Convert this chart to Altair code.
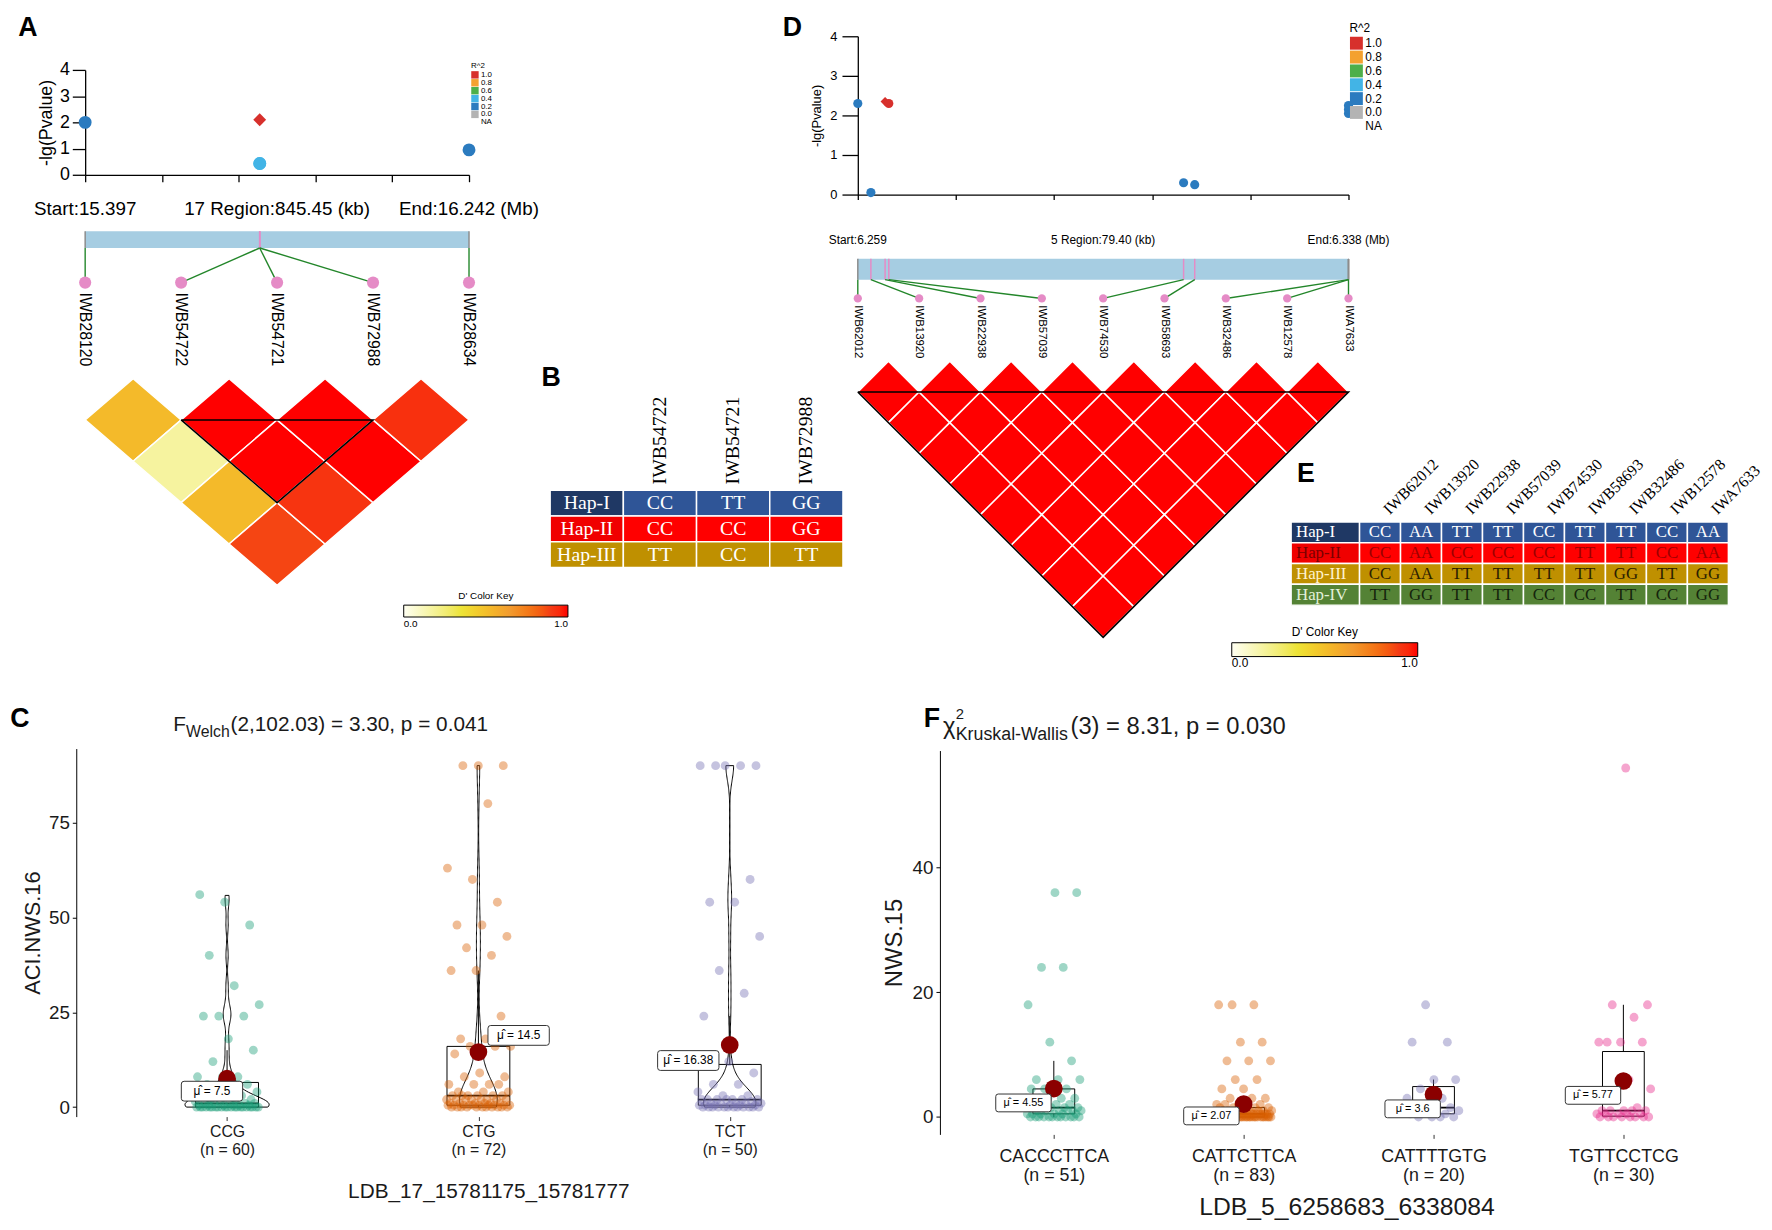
import altair as alt
import pandas as pd

# =============================== DATA ===============================
# Panel A : chromosome 17 region
A_CHR = "17"
A_START = 15.397
A_END = 16.242
A_REGION_KB = "845.45"
A_MARKERS = ["IWB28120", "IWB54722", "IWB54721", "IWB72988", "IWB28634"]
A_POS = [15.397, 15.7812, 15.7812, 15.7815, 16.242]
A_LOGP = [2.0, 0.43, 2.1, 0.43, 0.95]
A_R2 = ["0.2", "0.4", "1.0", "0.4", "0.2"]
A_LEAD = [False, False, True, False, False]
A_DPRIME = [[0.52, 0.17, 0.52, 0.88], [1.00, 1.00, 0.92], [1.00, 1.00], [0.93]]
A_BLOCK = [1, 3]

# Panel B : haplotypes of the chr17 block
B_HAPS = ["Hap-I", "Hap-II", "Hap-III"]
B_SNPS = ["IWB54722", "IWB54721", "IWB72988"]
B_ALLELES = [["CC", "TT", "GG"], ["CC", "CC", "GG"], ["TT", "CC", "TT"]]

# Panel D : chromosome 5 region
D_CHR = "5"
D_START = 6.258683
D_END = 6.338084
D_START_LABEL = "6.259"
D_END_LABEL = "6.338"
D_REGION_KB = "79.40"
D_MARKERS = ["IWB62012", "IWB13920", "IWB22938", "IWB57039", "IWB74530",
             "IWB58693", "IWB32486", "IWB12578", "IWA7633"]
D_POS = [6.258683, 6.260800, 6.263100, 6.263700, 6.311400, 6.313200, 6.338084, 6.338084, 6.338084]
D_LOGP = [2.30, 0.05, 2.35, 2.30, 0.30, 0.25, 2.05, 2.15, 2.25]
D_R2 = ["0.2", "0.2", "1.0", "1.0", "0.2", "0.2", "0.2", "0.2", "0.2"]
D_LEAD = [False, False, True, False, False, False, False, False, False]
D_DPRIME = [
    [1.0, 1.0, 1.0, 1.0, 1.0, 1.0, 1.0, 1.0],
    [1.0, 1.0, 1.0, 1.0, 1.0, 1.0, 1.0],
    [1.0, 1.0, 1.0, 1.0, 1.0, 1.0],
    [1.0, 1.0, 1.0, 1.0, 1.0],
    [1.0, 1.0, 1.0, 1.0],
    [1.0, 1.0, 1.0],
    [1.0, 1.0],
    [1.0],
]
D_BLOCK = [0, 8]

# Panel E : haplotypes of the chr5 block
E_HAPS = ["Hap-I", "Hap-II", "Hap-III", "Hap-IV"]
E_SNPS = D_MARKERS
E_ALLELES = [
    ["CC", "AA", "TT", "TT", "CC", "TT", "TT", "CC", "AA"],
    ["CC", "AA", "CC", "CC", "CC", "TT", "TT", "CC", "AA"],
    ["CC", "AA", "TT", "TT", "TT", "TT", "GG", "TT", "GG"],
    ["TT", "GG", "TT", "TT", "CC", "CC", "TT", "CC", "GG"],
]

# Panel C : ACI.NWS.16 by LDB_17 haplotype
C_GROUPS = ["CCG", "CTG", "TCT"]
C_CCG = [0] * 21 + [0.5] * 6 + [1] * 5 + [1.5] * 2 + [2] * 3 + [3] * 3 + [4] * 2 + [6] * 3 + [8] * 3 + \
        [12, 15, 18, 24, 24, 24, 27, 32, 40, 48, 54, 56]
C_CTG = [0] * 11 + [0.5] * 10 + [1] * 6 + [2] * 8 + [3] * 6 + [4] * 3 + [6] * 4 + [8] * 2 + \
        [9, 14, 16, 16, 16, 18, 18, 24, 36, 36, 40, 42, 45, 48, 48, 54, 60, 63, 80, 90, 90, 90]
C_TCT = [0] * 12 + [0.5] * 6 + [1] * 5 + [1.5] + [2] * 7 + [3, 3, 4, 6, 6, 9, 12] + \
        [24, 30, 36, 45, 54, 54, 60, 90, 90, 90, 90, 90]
C_MEANS = [7.5, 14.5, 16.38]

# Panel F : NWS.15 by LDB_5 haplotype
F_GROUPS = ["CACCCTTCA", "CATTCTTCA", "CATTTTGTG", "TGTTCCTCG"]
F_G1 = [0] * 12 + [0.5] * 6 + [1] * 6 + [1.5] * 5 + [2] * 3 + [3] * 5 + [4.5] * 4 + [6] * 3 + \
       [9, 12, 18, 24, 24, 36, 36]
F_G2 = [0] * 30 + [0.5] * 20 + [1] * 8 + [1.5] * 6 + [2] * 4 + [3] * 3 + [4.5] * 2 + [6] * 2 + \
       [9] * 3 + [12] * 2 + [18] * 3
F_G3 = [0] * 4 + [0.5] * 2 + [1] * 2 + [1.5] * 4 + [3] * 2 + [4.5] + [6] * 2 + [12] * 2 + [18]
F_G4 = [0] * 8 + [0.5] * 5 + [1] * 5 + [1.5, 3, 4.5, 6, 12, 12, 12, 12, 16, 18, 18, 56]
F_MEANS = [4.55, 2.07, 3.6, 5.77]

# =============================== STYLE ===============================
SANS = "Liberation Sans"
SERIF = "Liberation Serif"
W_TOTAL, H_TOTAL = 1756, 1214
R2_DOMAIN = ["1.0", "0.8", "0.6", "0.4", "0.2", "0.0", "NA"]
R2_COLORS = ["#D7302C", "#F4A12F", "#4DAF4A", "#42B4E6", "#2B7BBF", "#B3B3B3", "#FFFFFF"]
DP_STOPS = [0.0, 0.35, 0.65, 0.9, 1.0]
DP_COLORS = ["#FFFFF2", "#EDE437", "#F29A2E", "#F53A14", "#FF0000"]
BAR_COLOR = "#A6CDE2"
PINK = "#E58BC6"
GREEN = "#23862A"
GREY = "#8C8C8C"
HAP_LABEL_BG = ["#1F3864", "#F00000", "#BF9000", "#548235"]
HAP_CELL_BG = ["#2F5597", "#FF0000", "#BF9000", "#548235"]
B_LABEL_FG = ["#FFFFFF", "#FFFFFF", "#FFFFFF"]
B_CELL_FG = ["#FFFFFF", "#FFFFFF", "#FFFFFF"]
E_LABEL_FG = ["#FFFFFF", "#7A0000", "#FFF2CC", "#E2F0D9"]
E_CELL_FG = ["#FFFFFF", "#9C0000", "#2B2000", "#14240C"]
DARK2 = ["#1B9E77", "#D95F02", "#7570B3", "#E7298A"]
C_LABEL_OFF = [(-0.06, -3.3), (0.16, 4.4), (-0.165, -4.1)]
F_LABEL_OFF = [(-0.16, -2.3), (-0.17, -1.9), (-0.11, -2.3), (-0.16, -2.3)]


def letter(ch, x, y):
    return alt.Chart(pd.DataFrame({"t": [ch]})).mark_text(
        font=SANS, fontSize=27, fontWeight="bold", align="center", baseline="middle", color="black"
    ).encode(x=alt.value(x), y=alt.value(y), text="t:N")


def free_text(t, x, y, size, baseline="alphabetic"):
    return alt.Chart(pd.DataFrame({"t": [t]})).mark_text(
        font=SANS, fontSize=size, align="left", baseline=baseline, color="#1a1a1a"
    ).encode(x=alt.value(x), y=alt.value(y), text="t:N")


# --------------------------- association scatter ---------------------------
def scatter_panel(markers, pos, logp, r2, lead, start, end, cfg, let):
    ox, oy, w, h = cfg["ox"], cfg["oy"], cfg["w"], cfg["h"]
    df = pd.DataFrame({"marker": markers, "pos": pos, "logp": logp, "r2": r2,
                       "kind": ["lead" if v else "snp" for v in lead]})
    ticks = [start + k * (end - start) / 5 for k in range(6)]
    x = alt.X("pos:Q", scale=alt.Scale(domain=[start, end], range=[ox, ox + w], nice=False, zero=False),
              axis=alt.Axis(orient="bottom", offset=(oy + h) - H_TOTAL, values=ticks, labels=False,
                            title=None, grid=False, tickSize=cfg["xtick"], tickColor="black",
                            domainColor="black", tickWidth=1.3, domainWidth=1.3))
    y = alt.Y("logp:Q", scale=alt.Scale(domain=[0, 4], range=[oy + h, oy], nice=False, zero=False),
              axis=alt.Axis(orient="left", offset=-ox, values=[0, 1, 2, 3, 4], format="d",
                            title="-lg(Pvalue)", grid=False,
                            tickSize=cfg["ytick"], tickColor="black", domainColor="black",
                            tickWidth=1.3, domainWidth=1.3, labelFontSize=cfg["lab"], labelColor="black",
                            labelPadding=cfg["lpad"], titleFontSize=cfg["tit"], titleFontWeight="normal",
                            titleColor="black", titlePadding=cfg["tpad"]))
    color = alt.Color("r2:N", scale=alt.Scale(domain=R2_DOMAIN, range=R2_COLORS),
                      legend=alt.Legend(title="R^2", orient="none", legendX=ox + cfg["lx"],
                                        legendY=oy + cfg["ly"],
                                        symbolType="square", symbolSize=cfg["sym"], symbolStrokeWidth=0,
                                        labelFontSize=cfg["lfs"], titleFontSize=cfg["lfs"],
                                        titleFontWeight="normal", rowPadding=0, labelOffset=2,
                                        titlePadding=1, padding=0, labelColor="black", titleColor="black"))
    shape = alt.Shape("kind:N", scale=alt.Scale(domain=["lead", "snp"], range=["diamond", "circle"]),
                      legend=None)
    pts = alt.Chart(df).mark_point(filled=True, opacity=1, size=cfg["size"]).encode(
        x=x, y=y, color=color, shape=shape)
    return alt.layer(pts, letter(*let))


# --------------------------- gene track + LD heatmap ---------------------------
def schematic_panel(markers, pos, start, end, dprime, block, labels3, cfg):
    ox, oy, W, H = cfg["ox"], cfg["oy"], cfg["w"], cfg["h"]
    n = len(markers)
    xs = alt.Scale(domain=[0, n - 1], range=[ox, ox + W], nice=False, zero=False)
    ys = alt.Scale(domain=[0, H], range=[oy, oy + H], nice=False, zero=False)

    def X(f):
        return alt.X(f, scale=xs, axis=None)

    def Y(f):
        return alt.Y(f, scale=ys, axis=None)

    span = end - start

    def to_idx(fld):
        return f"(datum.{fld} - {start}) / {span} * {n - 1}"

    dm = pd.DataFrame({"marker": markers, "pos": pos, "k": list(range(n))})
    base = alt.Chart(dm).transform_calculate(u=to_idx("pos"))
    end_test = f"abs(datum.pos - {start}) < 1e-9 || abs(datum.pos - {end}) < 1e-9"

    tdf = pd.DataFrame({"k": [0, (n - 1) / 2, n - 1], "t": labels3})
    texts = alt.Chart(tdf).mark_text(font=SANS, fontSize=cfg["tfs"], baseline="middle", align="center",
                                     color="black").encode(x=X("k:Q"), y=alt.value(oy + cfg["text_y"]),
                                                           text="t:N")
    bar = alt.Chart(pd.DataFrame({"s": [start], "e": [end]})).transform_calculate(
        u0=to_idx("s"), u1=to_idx("e")).mark_rect(color=BAR_COLOR).encode(
        x=X("u0:Q"), x2="u1:Q", y=alt.value(oy + cfg["bar_top"]), y2=alt.value(oy + cfg["bar_bot"]))
    ticks = base.transform_calculate(tc=f"({end_test}) ? '{GREY}' : '{PINK}'").mark_rule(
        strokeWidth=1.5).encode(x=X("u:Q"), y=alt.value(oy + cfg["bar_top"]), y2=alt.value(oy + cfg["bar_bot"]),
                                color=alt.Color("tc:N", scale=None))
    links = base.mark_rule(color=GREEN, strokeWidth=1.4).encode(
        x=X("u:Q"), x2="k:Q", y=alt.value(oy + cfg["bar_bot"]), y2=alt.value(oy + cfg["dot_y"]))
    dots = base.mark_circle(color=PINK, opacity=1, size=cfg["dot_size"]).encode(
        x=X("k:Q"), y=alt.value(oy + cfg["dot_y"]))
    labs = base.mark_text(font=SANS, fontSize=cfg["mfs"], angle=90, align="left", baseline="middle",
                          color="black").encode(x=X("k:Q"), y=alt.value(oy + cfg["lab_y"]), text="marker:N")

    cells = [{"i": i, "j": i + 1 + m, "dp": v} for i, row in enumerate(dprime) for m, v in enumerate(row)]
    cdf = pd.DataFrame(cells)
    y0, hv = cfg["y0"], cfg["hv"]
    side = W / (n - 1)
    ratio = hv / (side / 2)
    path = f"M0,-{ratio:.4f}L1,0L0,{ratio:.4f}L-1,0Z"
    heat = alt.Chart(cdf).transform_calculate(
        cx="(datum.i + datum.j) / 2", cy=f"{y0} + (datum.j - datum.i) * {hv}"
    ).mark_point(shape=path, size=side * side, filled=True, opacity=1, stroke="white", strokeWidth=1.5).encode(
        x=X("cx:Q"), y=Y("cy:Q"),
        color=alt.Color("dp:Q", scale=alt.Scale(domain=DP_STOPS, range=DP_COLORS),
                        legend=alt.Legend(title="D' Color Key", orient="none", legendX=ox + cfg["lx"],
                                          legendY=oy + cfg["ly"], direction="horizontal",
                                          gradientLength=cfg["glen"], gradientThickness=cfg["gthick"],
                                          gradientStrokeColor="black", gradientStrokeWidth=1,
                                          values=[0, 1], format=".1f", labelFontSize=cfg["lfs"],
                                          titleFontSize=cfg["lfs"], titleFontWeight="normal",
                                          titleAnchor="middle", titlePadding=4, padding=0,
                                          labelColor="black", titleColor="black")))
    b0, b1 = block
    bdf = pd.DataFrame({"o": [0, 1, 2, 3], "b0": [b0] * 4, "b1": [b1] * 4})
    blk = alt.Chart(bdf).transform_calculate(
        bx="datum.o == 1 ? datum.b1 : (datum.o == 2 ? (datum.b0 + datum.b1) / 2 : datum.b0)",
        by=f"datum.o == 2 ? {y0} + {hv} + (datum.b1 - datum.b0) * {hv} : {y0} + {hv}"
    ).mark_line(color="black", strokeWidth=1.6).encode(x=X("bx:Q"), y=Y("by:Q"), order="o:Q")
    return alt.layer(bar, ticks, links, dots, labs, texts, heat, blk)


# --------------------------- haplotype table ---------------------------
def table_panel(haps, cols, alleles, label_fg, cell_fg, cfg, let):
    lw = cfg["lw"]
    recs = []
    for r, h in enumerate(haps):
        recs.append({"r": r, "c0": 0.0, "c1": lw, "txt": h, "bg": HAP_LABEL_BG[r], "fg": label_fg[r], "lab": 1})
        for c, a in enumerate(alleles[r]):
            recs.append({"r": r, "c0": lw + c, "c1": lw + c + 1, "txt": a, "bg": HAP_CELL_BG[r],
                         "fg": cell_fg[r], "lab": 0})
    df = pd.DataFrame(recs)
    xs = alt.Scale(domain=[0, lw + len(cols)], range=cfg["xr"], nice=False, zero=False)
    ys = alt.Scale(domain=[0, len(haps)], range=cfg["yr"], nice=False, zero=False)

    def X(f):
        return alt.X(f, scale=xs, axis=None)

    def Y(f):
        return alt.Y(f, scale=ys, axis=None)

    base = alt.Chart(df).transform_calculate(
        r1="datum.r + 1", cm="(datum.c0 + datum.c1) / 2", rm="datum.r + 0.5",
        cl=f"datum.c0 + {cfg['lpad']}")
    rects = base.mark_rect(stroke="white", strokeWidth=1.5).encode(
        x=X("c0:Q"), x2="c1:Q", y=Y("r:Q"), y2="r1:Q", fill=alt.Fill("bg:N", scale=None))
    cell_txt = base.transform_filter("datum.lab == 0").mark_text(
        font=SERIF, fontSize=cfg["fs"], align="center", baseline="middle").encode(
        x=X("cm:Q"), y=Y("rm:Q"), text="txt:N", color=alt.Color("fg:N", scale=None))
    if cfg["label_align"] == "center":
        lab_txt = base.transform_filter("datum.lab == 1").mark_text(
            font=SERIF, fontSize=cfg["fs"], align="center", baseline="middle").encode(
            x=X("cm:Q"), y=Y("rm:Q"), text="txt:N", color=alt.Color("fg:N", scale=None))
    else:
        lab_txt = base.transform_filter("datum.lab == 1").mark_text(
            font=SERIF, fontSize=cfg["fs"], align="left", baseline="middle").encode(
            x=X("cl:Q"), y=Y("rm:Q"), text="txt:N", color=alt.Color("fg:N", scale=None))
    hdf = pd.DataFrame({"c": [lw + k + 0.5 for k in range(len(cols))], "col": cols})
    heads = alt.Chart(hdf).transform_calculate(
        hx=f"datum.c + {cfg['hdx']}", hy=f"{cfg['hdy']}"
    ).mark_text(font=SERIF, fontSize=cfg["hfs"], angle=cfg["angle"], align="left", baseline="middle",
                color="black").encode(x=X("hx:Q"), y=Y("hy:Q"), text="col:N")
    return alt.layer(rects, cell_txt, lab_txt, heads, letter(*let))


# --------------------------- box / violin / jitter panel ---------------------------
def stat_panel(groups, value_lists, means, offsets, cfg, title_parts, let):
    ox, oy, w, h = cfg["ox"], cfg["oy"], cfg["w"], cfg["h"]
    n = len(groups)
    recs = []
    for gi, (g, vl) in enumerate(zip(groups, value_lists), start=1):
        for v in vl:
            recs.append({"g": g, "gi": gi, "value": v})
    df = pd.DataFrame(recs)
    xs = alt.Scale(domain=[0.4, n + 0.6], range=[ox, ox + w], nice=False, zero=False)
    ys = alt.Scale(domain=cfg["ydom"], range=[oy + h, oy], nice=False, zero=False)
    parts = []
    for gi, (g, vl) in enumerate(zip(groups, value_lists), start=1):
        parts.append(f"datum.value == {gi} ? ['{g}', '(n = {len(vl)})']")
    label_expr = " : ".join(parts) + " : ''"
    xaxis = alt.Axis(orient="bottom", offset=(oy + h) - H_TOTAL, values=list(range(1, n + 1)),
                     labelExpr=label_expr, title=cfg["xtitle"], grid=False,
                     domain=False, ticks=True, tickSize=4, tickColor="#333333", labelFontSize=cfg["xlab"],
                     labelColor="#1a1a1a", titleFontSize=cfg["xtfs"], titleFontWeight="normal",
                     titleColor="#1a1a1a", labelPadding=cfg["xlpad"], titlePadding=cfg["xtpad"],
                     titleX=ox + w / 2 + cfg["xtshift"], labelLineHeight=cfg["xlab"] + 2)
    yaxis = alt.Axis(orient="left", offset=-ox, values=cfg["yticks"], title=cfg["ytitle"], grid=False,
                     domain=True, domainColor="black",
                     tickColor="black", tickSize=4, labelFontSize=cfg["ylab"], labelColor="#1a1a1a",
                     titleFontSize=cfg["tfs"], titleFontWeight="normal", titleColor="#1a1a1a",
                     titlePadding=cfg["ytpad"], labelPadding=3)

    def X(f):
        return alt.X(f, scale=xs, axis=xaxis)

    def Y(f):
        return alt.Y(f, scale=ys, axis=yaxis)

    layers = []
    if cfg["violin"]:
        vio = alt.Chart(df).transform_joinaggregate(
            gmin="min(value)", gmax="max(value)", groupby=["gi"]
        ).transform_density(
            "value", as_=["v", "dens"], groupby=["gi", "gmin", "gmax"], steps=300
        ).transform_filter("datum.v >= datum.gmin && datum.v <= datum.gmax").transform_calculate(
            xl=f"datum.gi - datum.dens * {cfg['K']}", xr=f"datum.gi + datum.dens * {cfg['K']}"
        ).mark_area(orient="horizontal", fill="white", fillOpacity=0, stroke="black", strokeWidth=1).encode(
            y=Y("v:Q"), x=X("xl:Q"), x2="xr:Q", detail="gi:N")
        layers.append(vio)
    bw = cfg["bw"]
    box = alt.Chart(df).transform_aggregate(
        q1="q1(value)", med="median(value)", q3="q3(value)", groupby=["gi"]
    ).transform_calculate(bl=f"datum.gi - {bw}", br=f"datum.gi + {bw}")
    box_rect = box.mark_rect(fill="white", fillOpacity=0, stroke="black", strokeWidth=1).encode(
        x=X("bl:Q"), x2="br:Q", y=Y("q1:Q"), y2="q3:Q")
    med = box.mark_rule(color="black", strokeWidth=1.8).encode(x=X("bl:Q"), x2="br:Q", y=Y("med:Q"))
    wh = alt.Chart(df).transform_joinaggregate(
        q1="q1(value)", q3="q3(value)", groupby=["gi"]
    ).transform_calculate(
        hi="datum.q3 + 1.5 * (datum.q3 - datum.q1)", lo="datum.q1 - 1.5 * (datum.q3 - datum.q1)"
    ).transform_filter("datum.value <= datum.hi && datum.value >= datum.lo").transform_aggregate(
        wmax="max(value)", wmin="min(value)", q1="min(q1)", q3="min(q3)", groupby=["gi"])
    up = wh.mark_rule(color="black", strokeWidth=1).encode(x=X("gi:Q"), y=Y("q3:Q"), y2="wmax:Q")
    lo = wh.mark_rule(color="black", strokeWidth=1).encode(x=X("gi:Q"), y=Y("wmin:Q"), y2="q1:Q")
    pts = alt.Chart(df).transform_window(rn="row_number()", groupby=["gi"]).transform_calculate(
        gx=f"datum.gi + ((datum.rn * 0.6180339887) % 1 - 0.5) * {cfg['jit']}"
    ).mark_circle(size=cfg["psize"], opacity=0.42).encode(
        x=X("gx:Q"), y=Y("value:Q"),
        color=alt.Color("g:N", scale=alt.Scale(domain=groups, range=cfg["pal"]), legend=None))
    md = pd.DataFrame({"gi": list(range(1, n + 1)), "mean": means,
                       "lab": [f"\u03bc\u0302 = {m}" for m in means],
                       "ldx": [o[0] for o in offsets], "ldy": [o[1] for o in offsets]})
    mpt = alt.Chart(md).mark_circle(size=cfg["msize"], color="#8B0000", opacity=1).encode(
        x=X("gi:Q"), y=Y("mean:Q"))
    a = cfg["lh"] / cfg["lw"]
    r = 0.09
    box_path = (f"M{-1 + r},{-a}L{1 - r},{-a}Q1,{-a} 1,{-a + r}L1,{a - r}Q1,{a} {1 - r},{a}"
                f"L{-1 + r},{a}Q-1,{a} -1,{a - r}L-1,{-a + r}Q-1,{-a} {-1 + r},{-a}Z")
    lbase = alt.Chart(md).transform_calculate(lx="datum.gi + datum.ldx", ly="datum.mean + datum.ldy")
    lrect = lbase.mark_point(shape=box_path, size=cfg["lw"] ** 2, fill="white", fillOpacity=1,
                             stroke="#333333", strokeWidth=1, opacity=1).encode(x=X("lx:Q"), y=Y("ly:Q"))
    ltxt = lbase.mark_text(font=SANS, fontSize=cfg["lfs"], color="black", align="center",
                           baseline="middle").encode(x=X("lx:Q"), y=Y("ly:Q"), text="lab:N")
    layers += [box_rect, med, up, lo, pts, mpt, lrect, ltxt]
    for (t, tx, ty, ts) in title_parts:
        layers.append(free_text(t, ox + tx, oy + ty, ts))
    layers.append(letter(*let))
    return alt.layer(*layers)


# =============================== PANELS (chart pixel layout) ===============================
A_sc_cfg = dict(ox=78, oy=56, w=388, h=106, xtick=7, ytick=13, lab=18, lpad=3, tit=18, tpad=4, size=170,
                lx=390, ly=-8, sym=56, lfs=8)
A_scatter = scatter_panel(A_MARKERS, A_POS, A_LOGP, A_R2, A_LEAD, A_START, A_END, A_sc_cfg, ("A", 20, 14))

A_sch_cfg = dict(ox=78, oy=187, w=388, h=410, text_y=10, tfs=19, bar_top=32, bar_bot=49, dot_y=84,
                 dot_size=150, lab_y=94, mfs=16, y0=181, hv=41.8, lx=322, ly=396, glen=166, gthick=12, lfs=10)
A_schem = schematic_panel(
    A_MARKERS, A_POS, A_START, A_END, A_DPRIME, A_BLOCK,
    [f"Start:{A_START}", f"{A_CHR} Region:{A_REGION_KB} (kb)", f"End:{A_END} (Mb)"], A_sch_cfg)

B_cfg = dict(lw=1.0, xr=[548, 844], yr=[481, 559], fs=20, hfs=20, angle=270, hdx=0, hdy=-0.23,
             label_align="center", lpad=0.1)
B_table = table_panel(B_HAPS, B_SNPS, B_ALLELES, B_LABEL_FG, B_CELL_FG, B_cfg, ("B", 549, 367))

D_sc_cfg = dict(ox=859, oy=22, w=496, h=160, xtick=5, ytick=16, lab=13, lpad=5, tit=13, tpad=6, size=85,
                lx=497, ly=-13, sym=170, lfs=12)
D_scatter = scatter_panel(D_MARKERS, D_POS, D_LOGP, D_R2, D_LEAD, D_START, D_END, D_sc_cfg, ("D", 793, 14))

D_sch_cfg = dict(ox=859, oy=217, w=496, h=445, text_y=11, tfs=12, bar_top=30, bar_bot=51, dot_y=70,
                 dot_size=70, lab_y=77, mfs=11.5, y0=133.5, hv=31, lx=378, ly=402, glen=188, gthick=14, lfs=12)
D_schem = schematic_panel(
    D_MARKERS, D_POS, D_START, D_END, D_DPRIME, D_BLOCK,
    [f"Start:{D_START_LABEL}", f"{D_CHR} Region:{D_REGION_KB} (kb)", f"End:{D_END_LABEL} (Mb)"], D_sch_cfg)

E_cfg = dict(lw=1.67, xr=[1297, 1739], yr=[513, 597], fs=17, hfs=16, angle=315, hdx=0.15, hdy=-0.5,
             label_align="left", lpad=0.12)
E_table = table_panel(E_HAPS, E_SNPS, E_ALLELES, E_LABEL_FG, E_CELL_FG, E_cfg, ("E", 1312, 465))

C_cfg = dict(ox=69, oy=742, w=813, h=372, ydom=[-2.5, 94.5], yticks=[0, 25, 50, 75], ytitle="ACI.NWS.16",
             xtitle="LDB_17_15781175_15781777", tfs=22, xtfs=21, xtshift=10, ylab=19, xlab=16, xlpad=3,
             xtpad=24, ytpad=4, violin=True, K=1.5, bw=0.125, jit=0.26, psize=80, msize=320, lw=62, lh=20,
             lfs=12, pal=DARK2[:3])
C_chart = stat_panel(C_GROUPS, [C_CCG, C_CTG, C_TCT], C_MEANS, C_LABEL_OFF, C_cfg,
                     [("F", 98, -18, 21), ("Welch", 111, -12, 16), ("(2,102.03) = 3.30, p = 0.041", 156, -18, 21)],
                     ("C", 12, 712))

F_cfg = dict(ox=942, oy=744, w=806, h=388, ydom=[-2.8, 58.8], yticks=[0, 20, 40], ytitle="NWS.15",
             xtitle="LDB_5_6258683_6338084", tfs=24, xtfs=25, xtshift=8, ylab=19, xlab=18, xlpad=9,
             xtpad=10, ytpad=6, violin=False, K=1.5, bw=0.11, jit=0.3, psize=80, msize=320, lw=56, lh=18,
             lfs=11, pal=DARK2)
F_chart = stat_panel(F_GROUPS, [F_G1, F_G2, F_G3, F_G4], F_MEANS, F_LABEL_OFF, F_cfg,
                     [("\u03c7", 3, -17, 24), ("2", 16, -32, 15), ("Kruskal-Wallis", 16, -11, 18),
                      ("(3) = 8.31, p = 0.030", 132, -17, 24)],
                     ("F", 934, 712))

# =============================== ASSEMBLY ===============================
chart = alt.layer(
    A_scatter, A_schem, B_table, D_scatter, D_schem, E_table, C_chart, F_chart
).resolve_scale(
    x="independent", y="independent", color="independent", fill="independent",
    shape="independent", size="independent", opacity="independent"
).properties(width=W_TOTAL, height=H_TOTAL, padding=0).configure_view(stroke=None).configure_axis(
    labelFont=SANS, titleFont=SANS).configure_legend(labelFont=SANS, titleFont=SANS).configure_text(font=SANS)

chart.save("out.html", embed_options={"renderer": "svg", "actions": False})
